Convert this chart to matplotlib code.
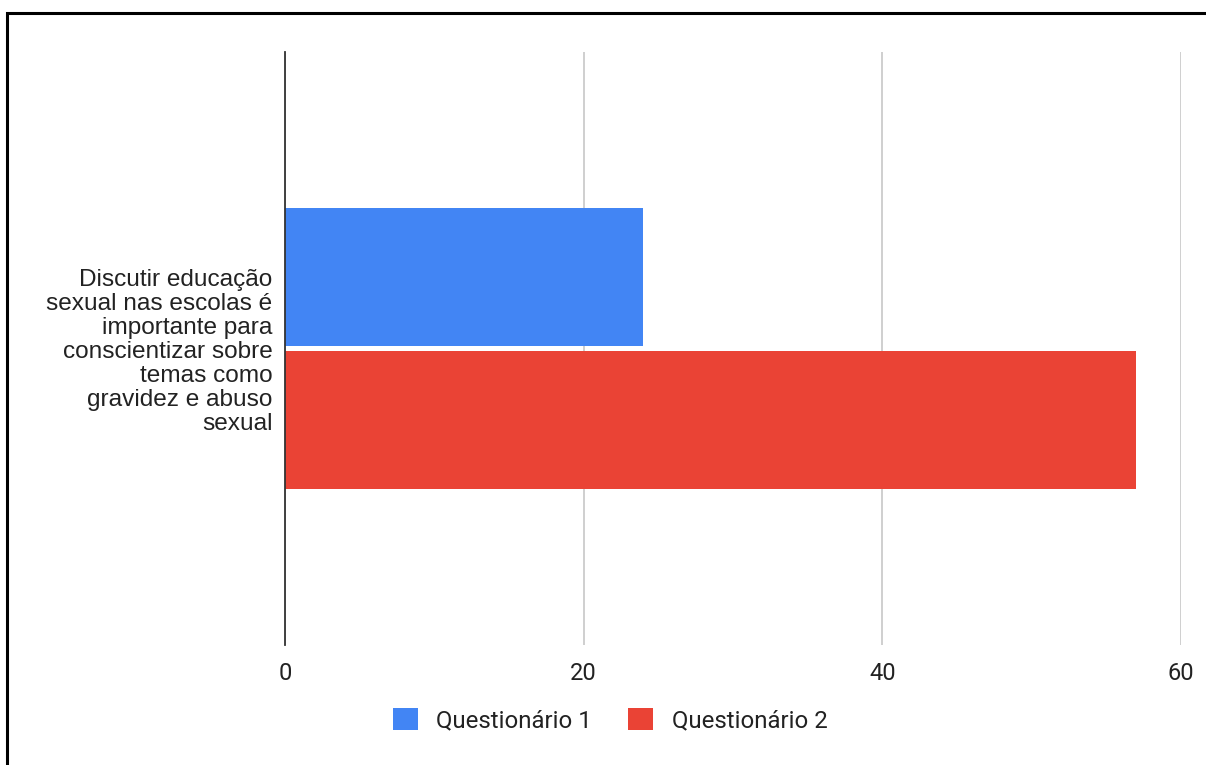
import matplotlib.pyplot as plt
from matplotlib.patches import Rectangle

categoria = ["Discutir educação\nsexual nas escolas é\nimportante para\nconscientizar sobre\ntemas como\ngravidez e abuso\nsexual"]
series = ["Questionário 1", "Questionário 2"]
valores_q1 = [24]
valores_q2 = [57]
cores = ["#4285F4", "#EA4335"]
xticks = [0, 20, 40, 60]

fig = plt.figure(figsize=(12.06, 7.65), dpi=100)
ax = fig.add_axes([285 / 1206, 1 - 645 / 765, 896 / 1206, 593 / 765])

h = 0.233
gap = 0.004
b1 = ax.barh([h / 2 + gap], valores_q1, height=h, color=cores[0], label=series[0])
b2 = ax.barh([-h / 2 - gap], valores_q2, height=h, color=cores[1], label=series[1])

ax.set_xlim(0, 60)
ax.set_ylim(-0.5, 0.5)
ax.set_xticks(xticks)
ax.set_xticklabels([str(t) for t in xticks], fontsize=17, family="Roboto", color="#222222")
ax.set_yticks([0])
ax.set_yticklabels(categoria, fontsize=17.6, family="Liberation Sans",
                   ha="right", linespacing=1.12, color="#222222")
ax.tick_params(axis="both", length=0)
ax.tick_params(axis="y", pad=9)
ax.tick_params(axis="x", pad=12)

for s in ["top", "right", "bottom"]:
    ax.spines[s].set_visible(False)
ax.spines["left"].set_color("#333333")
ax.spines["left"].set_linewidth(1.3)
ax.xaxis.grid(True, color="#cccccc", linewidth=1.3)
ax.set_axisbelow(True)

leg = fig.legend(handles=[b1, b2], loc="center", bbox_to_anchor=(0.506, 1 - 720 / 765),
                 ncol=2, frameon=False, prop={"family": "Roboto", "size": 17.3},
                 handlelength=1.05, handleheight=1.05, handletextpad=0.75, columnspacing=1.5)
for t in leg.get_texts():
    t.set_color("#222222")

# moldura da figura
fig.patches.append(Rectangle((7 / 1206, -0.1), 1.2, 1 - 13 / 765 + 0.1,
                             transform=fig.transFigure, fill=False,
                             edgecolor="black", linewidth=2.2))

fig.savefig("out.png", dpi=100)
